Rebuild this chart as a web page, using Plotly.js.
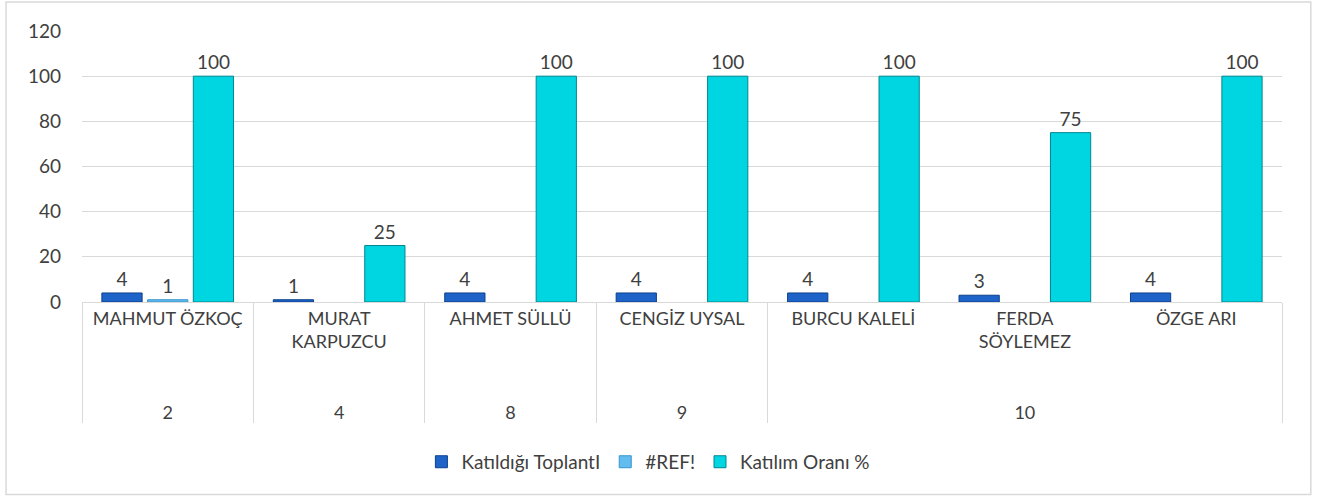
<!DOCTYPE html>
<html>
<head>
<meta charset="utf-8">
<script src="https://cdn.plot.ly/plotly-3.0.1.min.js"></script>
<style>html,body{margin:0;padding:0;background:#fff;}#chart{width:1322px;height:497px;}</style>
</head>
<body>
<div id="chart"></div>
<script>
const groups = ['2', '4', '8', '9', '10', '10', '10'];
const names = ['MAHMUT ÖZKOÇ', 'MURAT<br>KARPUZCU', 'AHMET SÜLLÜ', 'CENGİZ UYSAL', 'BURCU KALELİ', 'FERDA<br>SÖYLEMEZ', 'ÖZGE ARI'];
const katildigi = [4, 1, 4, 4, 4, 3, 4];
const ref = [1, null, null, null, null, null, null];
const oran = [100, 25, 100, 100, 100, 75, 100];
const seriesNames = ['Katıldığı ToplantI', '#REF!', 'Katılım Oranı %'];

const font = 'Lato, "Open Sans", sans-serif';
const groupLabels = groups.map(g => '<br><br>' + g);
const x = [groupLabels, names];
function bar(name, y, fill, line) {
  return {
    type: 'bar', name: name, x: x, y: y,
    marker: {color: fill, line: {color: line, width: 1}},
    text: y.map(v => v === null ? '' : String(v)),
    textposition: 'outside', cliponaxis: false,
    textfont: {family: font, size: 19, color: '#404040'},
    hoverinfo: 'x+y'
  };
}
const data = [
  bar(seriesNames[0], katildigi, '#1E64C8', '#0C3F8C'),
  bar(seriesNames[1], ref, '#62BCEE', '#3596CF'),
  bar(seriesNames[2], oran, '#00D6E2', '#00868F')
];
const layout = {
  width: 1322, height: 497,
  margin: {l: 82, r: 40, t: 31, b: 195},
  paper_bgcolor: '#ffffff', plot_bgcolor: '#ffffff',
  font: {family: font, size: 19, color: '#404040'},
  barmode: 'group', bargap: 0.2, bargroupgap: 0.12,
  showlegend: true,
  legend: {orientation: 'h', x: 0.472, xanchor: 'center', y: -0.59, yanchor: 'middle',
           font: {family: font, size: 19, color: '#404040'}, itemwidth: 30, traceorder: 'normal'},
  xaxis: {type: 'multicategory', showline: true, linecolor: '#D9D9D9', linewidth: 1,
          showdividers: true, dividercolor: '#D9D9D9', dividerwidth: 1,
          tickfont: {family: font, size: 18, color: '#404040'}, ticks: '', showgrid: false},
  yaxis: {range: [0, 120], dtick: 20, showgrid: true, gridcolor: '#D9D9D9', gridwidth: 1,
          zeroline: false, showline: false, ticks: '', ticklabelstandoff: 20,
          tickfont: {family: font, size: 19, color: '#404040'}},
  shapes: [{type: 'rect', xref: 'paper', yref: 'paper', x0: -0.0633, x1: 1.024, y0: -0.71, y1: 1.107,
            line: {color: '#D9D9D9', width: 1.5}, fillcolor: 'rgba(0,0,0,0)', layer: 'below'}]
};
Plotly.newPlot('chart', data, layout, {displayModeBar: false, staticPlot: true});
</script>
</body>
</html>
